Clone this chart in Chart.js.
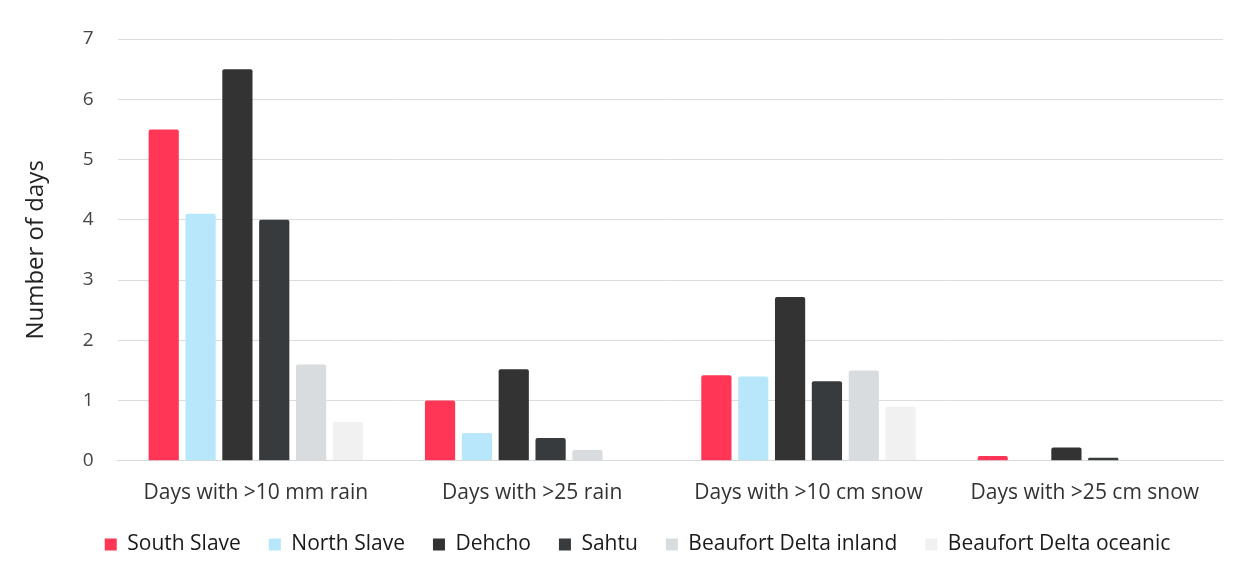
<!DOCTYPE html>
<html>
<head>
<meta charset="utf-8">
<script src="https://cdn.jsdelivr.net/npm/chart.js@4/dist/chart.umd.min.js"></script>
<style>
    html, body { margin: 0; padding: 0; background: #fff; }
    #wrap { width: 1249px; height: 577px; position: relative; }
</style>
</head>
<body>
<div id="wrap"><canvas id="chart" width="1249" height="577"></canvas></div>
<script>
const categories = ['Days with >10 mm rain', 'Days with >25 rain', 'Days with >10 cm snow', 'Days with >25 cm snow'];

const southSlave  = [5.5, 1.0, 1.42, 0.08];
const northSlave  = [4.1, 0.46, 1.4, 0];
const dehcho      = [6.5, 1.52, 2.72, 0.22];
const sahtu       = [4.0, 0.38, 1.32, 0.05];
const bdInland    = [1.6, 0.18, 1.5, 0];
const bdOceanic   = [0.65, 0, 0.9, 0];

const regionNames  = ['South Slave', 'North Slave', 'Dehcho', 'Sahtu', 'Beaufort Delta inland', 'Beaufort Delta oceanic'];
const regionColors = ['#ff3656', '#b8e6fb', '#333333', '#383b3e', '#d9dcde', '#f1f1f1'];
const regionValues = [southSlave, northSlave, dehcho, sahtu, bdInland, bdOceanic];

const FONT = '"Open Sans", Lato, sans-serif';

const datasets = regionNames.map((name, i) => ({
    label: name,
    data: regionValues[i],
    backgroundColor: regionColors[i],
    borderWidth: 0,
    borderRadius: 2,
    borderSkipped: 'bottom',
    categoryPercentage: 0.8,
    barPercentage: 0.82
}));

// nudge the legend row a little to the right
const legendShift = {
    id: 'legendShift',
    afterLayout(chart) {
        chart.legend.left += 17;
        chart.legend.right += 17;
    }
};

new Chart(document.getElementById('chart').getContext('2d'), {
    type: 'bar',
    data: { labels: categories, datasets: datasets },
    plugins: [legendShift],
    options: {
        responsive: false,
        animation: false,
        layout: { padding: { left: 18, right: 26, top: 39, bottom: 12 } },
        plugins: {
            tooltip: { enabled: false },
            legend: {
                position: 'bottom',
                labels: {
                    color: '#1a1a1a',
                    font: { family: FONT, size: 21 },
                    boxWidth: 12,
                    boxHeight: 12,
                    padding: 28
                }
            }
        },
        scales: {
            x: {
                grid: { display: false, drawTicks: false },
                border: { color: '#d9d9d9' },
                ticks: { color: '#333', font: { family: FONT, size: 21 }, padding: 20 },
                // pull the legend up closer to the category labels
                afterFit: (scale) => { scale.height -= 20; }
            },
            y: {
                min: 0,
                max: 7,
                ticks: { stepSize: 1, color: '#444', font: { family: FONT, size: 19 }, padding: 24 },
                grid: { color: '#dcdcdc', drawTicks: false },
                border: { display: false },
                title: {
                    display: true,
                    text: 'Number of days',
                    color: '#222',
                    font: { family: FONT, size: 24 },
                    padding: { bottom: 8 }
                }
            }
        }
    }
});
</script>
</body>
</html>
